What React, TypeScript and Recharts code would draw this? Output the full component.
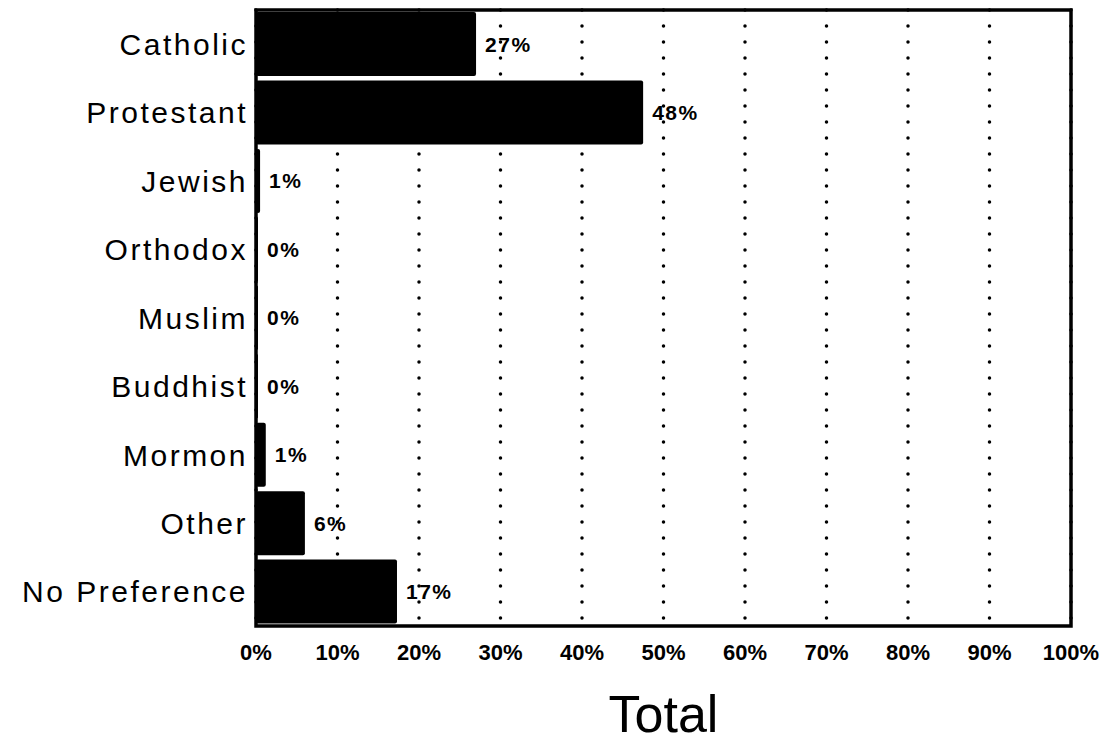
import { BarChart, Bar, XAxis, YAxis, CartesianGrid, ReferenceArea, LabelList } from 'recharts';

const categories = ['Catholic', 'Protestant', 'Jewish', 'Orthodox', 'Muslim', 'Buddhist', 'Mormon', 'Other', 'No Preference'];
const shares = [27, 47.5, 0.5, 0, 0, 0, 1.2, 6, 17.3];
const shareLabels = ['27%', '48%', '1%', '0%', '0%', '0%', '1%', '6%', '17%'];
const xTicks = [0, 10, 20, 30, 40, 50, 60, 70, 80, 90, 100];

const data = categories.map((name, i) => ({ name, value: shares[i], label: shareLabels[i] }));

const font = '"Liberation Sans", Arial, Helvetica, sans-serif';

export default function App() {
  return (
    <div style={{ position: 'absolute', left: 0, top: 0, background: '#fff', fontFamily: font }}>
      <BarChart
        width={1107}
        height={745}
        data={data}
        layout="vertical"
        margin={{ top: 10, right: 36, bottom: 0, left: 0 }}
        barCategoryGap="3%"
      >
        <CartesianGrid
          horizontal={false}
          stroke="#000"
          strokeWidth={3.5}
          strokeDasharray="0 16"
          strokeLinecap="round"
        />
        <XAxis
          type="number"
          domain={[0, 100]}
          ticks={xTicks}
          tickFormatter={(v: number) => `${v}%`}
          axisLine={false}
          tickLine={false}
          tickSize={0}
          tickMargin={18}
          height={119}
          tick={{ fontSize: 22, fontWeight: 'bold', fill: '#000', fontFamily: font }}
          label={{ value: 'Total', position: 'insideBottom', offset: 13, style: { fontSize: 52, fill: '#000', fontFamily: font } }}
        />
        <YAxis
          type="category"
          dataKey="name"
          width={256}
          axisLine={false}
          tickLine={false}
          tick={{ fontSize: 30, fill: '#000', fontFamily: font, letterSpacing: 2.5 }}
        />
        <ReferenceArea x1={0} x2={100} fill="none" stroke="#000" strokeWidth={3.5} ifOverflow="visible" />
        <Bar dataKey="value" fill="#000" isAnimationActive={false} radius={2} minPointSize={2}>
          <LabelList
            dataKey="label"
            position="right"
            offset={9}
            style={{ fontSize: 21, fontWeight: 'bold', fill: '#000', fontFamily: font, letterSpacing: 1.5 }}
          />
        </Bar>
      </BarChart>
    </div>
  );
}
